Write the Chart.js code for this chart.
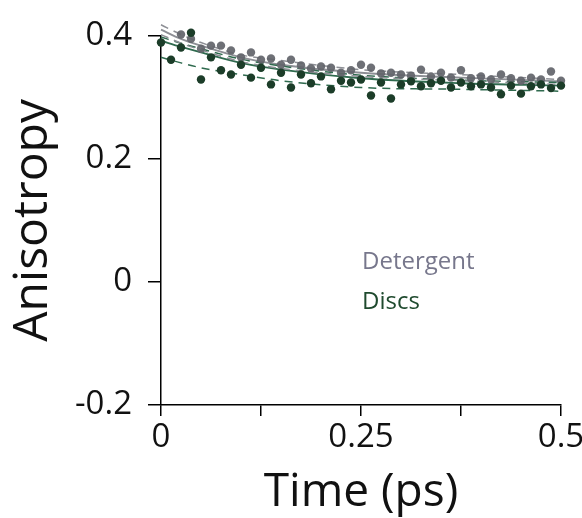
<!DOCTYPE html>
<html>
<head>
<meta charset="utf-8">
<script src="https://cdn.jsdelivr.net/npm/chart.js@4/dist/chart.umd.min.js"></script>
<style>
  html, body { margin: 0; padding: 0; background: #fff; }
  #wrap { width: 582px; height: 518px; }
</style>
</head>
<body>
<div id="wrap"><canvas id="aniso"></canvas></div>
<script>
// time points (ps) shared by both measurements
const times = [0, 0.0125, 0.025, 0.0375, 0.05, 0.0625, 0.075, 0.0875, 0.1, 0.1125,
  0.125, 0.1375, 0.15, 0.1625, 0.175, 0.1875, 0.2, 0.2125, 0.225, 0.2375,
  0.25, 0.2625, 0.275, 0.2875, 0.3, 0.3125, 0.325, 0.3375, 0.35, 0.3625,
  0.375, 0.3875, 0.4, 0.4125, 0.425, 0.4375, 0.45, 0.4625, 0.475, 0.4875, 0.5];

const detergent = [0.429, 0.410, 0.402, 0.395, 0.379, 0.384, 0.384, 0.376, 0.365, 0.373,
  0.361, 0.363, 0.353, 0.361, 0.352, 0.347, 0.350, 0.348, 0.340, 0.344,
  0.353, 0.348, 0.339, 0.340, 0.337, 0.335, 0.345, 0.334, 0.340, 0.332,
  0.344, 0.331, 0.334, 0.329, 0.337, 0.331, 0.327, 0.332, 0.329, 0.342, 0.327];

const discs = [0.389, 0.361, 0.381, 0.405, 0.329, 0.365, 0.344, 0.337, 0.353, 0.332,
  0.348, 0.321, 0.340, 0.316, 0.337, 0.323, 0.334, 0.313, 0.327, 0.324,
  0.329, 0.303, 0.324, 0.298, 0.321, 0.326, 0.318, 0.323, 0.327, 0.316,
  0.324, 0.318, 0.321, 0.316, 0.305, 0.319, 0.306, 0.318, 0.321, 0.315, 0.319];

// fitted decays with their confidence bands
const fitTimes = [0, 0.025, 0.05, 0.1, 0.15, 0.25, 0.375, 0.5];
const detFit   = [0.410, 0.395, 0.384, 0.365, 0.353, 0.340, 0.332, 0.326];
const detUpper = [0.418, 0.402, 0.389, 0.369, 0.360, 0.345, 0.337, 0.329];
const detLower = [0.402, 0.388, 0.377, 0.358, 0.347, 0.334, 0.327, 0.321];
const discFit   = [0.392, 0.382, 0.373, 0.356, 0.345, 0.331, 0.323, 0.319];
const discUpper = [0.398, 0.388, 0.379, 0.362, 0.351, 0.336, 0.328, 0.324];
const discLower = [0.365, 0.356, 0.348, 0.337, 0.327, 0.316, 0.313, 0.310];

const yTicks = [-0.2, 0, 0.2, 0.4];
const xTickValues = [0, 0.25, 0.5];
const xTickText = ['0', '0.25', '0.5'];

const seriesNames = ['Detergent', 'Discs'];
const grayDots = 'rgba(98,100,106,0.92)';
const greenDots = '#1c3d29';
const grayLine = '#8d8f95';
const greenLine = '#2f6a4e';

const pts = (xs, ys) => xs.map((x, i) => ({x: x, y: ys[i]}));

function fitLine(values, color, dashed) {
  return {
    type: 'line',
    data: pts(fitTimes, values),
    borderColor: color,
    borderWidth: dashed ? 1.5 : 1.9,
    borderDash: dashed ? [8, 6] : [],
    pointRadius: 0,
    cubicInterpolationMode: 'monotone',
    clip: false,
    order: 2
  };
}

// text legend drawn inside the plot
const textLegend = {
  id: 'textLegend',
  afterDraw(chart) {
    const {ctx, chartArea} = chart;
    const x = chartArea.left + 201;
    ctx.save();
    ctx.font = '24px "Open Sans"';
    ctx.textBaseline = 'middle';
    ctx.fillStyle = '#77778c';
    ctx.fillText(seriesNames[0], x, chartArea.top + 226);
    ctx.fillStyle = '#1f4a2e';
    ctx.fillText(seriesNames[1], x, chartArea.top + 266);
    ctx.restore();
  }
};

new Chart(document.getElementById('aniso'), {
  type: 'scatter',
  data: {
    datasets: [
      fitLine(detUpper, grayLine, true),
      fitLine(detLower, grayLine, true),
      fitLine(discUpper, greenLine, true),
      fitLine(discLower, greenLine, true),
      fitLine(detFit, grayLine, false),
      fitLine(discFit, greenLine, false),
      {
        label: seriesNames[0],
        data: pts(times, detergent),
        pointRadius: 4.2,
        pointBackgroundColor: grayDots,
        pointBorderWidth: 0,
        clip: false,
        order: 1
      },
      {
        label: seriesNames[1],
        data: pts(times, discs),
        pointRadius: 4.2,
        pointBackgroundColor: greenDots,
        pointBorderWidth: 0,
        clip: false,
        order: 0
      }
    ]
  },
  options: {
    responsive: true,
    maintainAspectRatio: false,
    animation: false,
    layout: { padding: { left: 0, right: 21, top: 31, bottom: 0 } },
    plugins: { legend: { display: false }, tooltip: { enabled: false } },
    scales: {
      x: {
        type: 'linear',
        min: 0,
        max: 0.5,
        afterFit(scale) {
          scale.height = 113;
          // let the last label hang past the plot edge
          scale.paddingRight = 0;
        },
        afterBuildTicks(scale) {
          scale.ticks = [0, 0.125, 0.25, 0.375, 0.5].map(v => ({value: v}));
        },
        ticks: {
          color: '#111',
          font: { family: 'Open Sans', size: 33 },
          padding: 2,
          maxRotation: 0,
          callback(v) {
            const i = xTickValues.indexOf(v);
            return i < 0 ? '' : xTickText[i];
          }
        },
        grid: { drawOnChartArea: false, drawTicks: true, tickLength: 11, color: '#000', lineWidth: 1.5 },
        border: { color: '#000', width: 1.5 },
        title: {
          display: true,
          text: 'Time (ps)',
          color: '#111',
          font: { family: 'Open Sans', size: 46 },
          padding: { top: 0, bottom: -2 }
        }
      },
      y: {
        type: 'linear',
        min: -0.2,
        max: 0.4,
        afterFit(scale) { scale.width = 161; },
        afterBuildTicks(scale) {
          scale.ticks = yTicks.map(v => ({value: v}));
        },
        ticks: {
          color: '#111',
          font: { family: 'Open Sans', size: 33 },
          padding: 16,
          callback: v => (v === 0 ? '0' : String(v))
        },
        grid: { drawOnChartArea: false, drawTicks: true, tickLength: 13, color: '#000', lineWidth: 1.5 },
        border: { color: '#000', width: 1.5 },
        title: {
          display: true,
          text: 'Anisotropy',
          color: '#111',
          font: { family: 'Open Sans', size: 48 },
          padding: { top: 5, bottom: 0 }
        }
      }
    }
  },
  plugins: [textLegend]
});
</script>
</body>
</html>
